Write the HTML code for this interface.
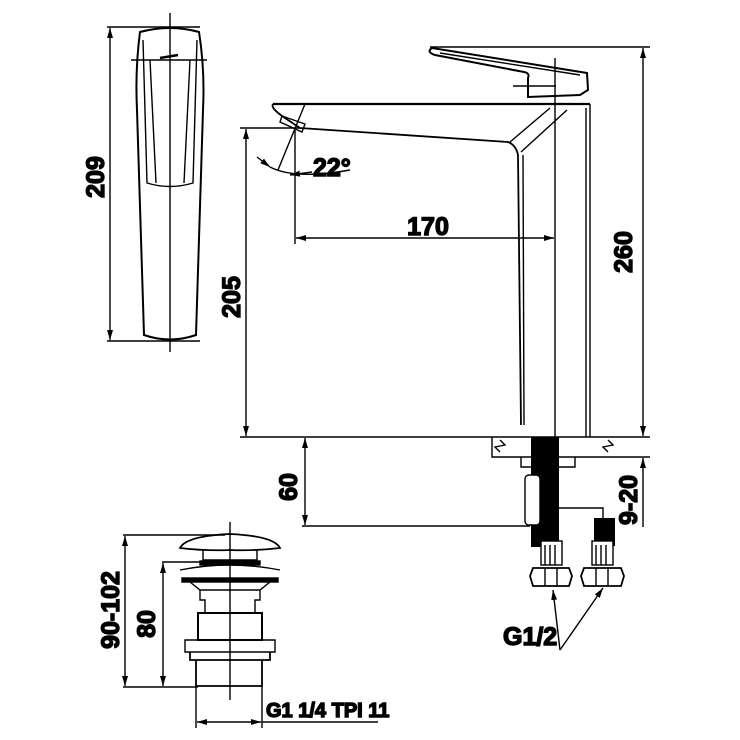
<!DOCTYPE html>
<html><head><meta charset="utf-8"><style>
html,body{margin:0;padding:0;background:#fff}
svg{display:block}
text{font-family:"Liberation Sans Narrow","Liberation Sans",sans-serif;font-weight:bold;fill:#000}
</style></head><body>
<svg width="740" height="740" viewBox="0 0 740 740" xmlns="http://www.w3.org/2000/svg">
<defs>
<marker id="a" markerWidth="10" markerHeight="8" refX="10" refY="4" orient="auto-start-reverse" markerUnits="userSpaceOnUse">
<path d="M0,1 L10,4 L0,7 Z" fill="#000"/></marker>
</defs>
<g fill="none" stroke="#000" stroke-width="1.4">
<line x1="170" y1="13" x2="170" y2="352"/>
<line x1="107" y1="27" x2="200" y2="27"/>
<line x1="107" y1="341" x2="200" y2="341"/>
<line x1="110" y1="28" x2="110" y2="340" marker-start="url(#a)" marker-end="url(#a)"/>
<line x1="131" y1="60" x2="207" y2="60"/>
<path d="M140,32 Q170,24 199,32 Q205,70 203,110 L196,335 Q170,344 144,335 L137,110 Q135,70 140,32 Z" stroke-width="2"/>
<path d="M143,40 L147,183 Q170,190 193,183 L197,40"/>
<path d="M150,60 L156,183 M190,60 L184,183"/>
<path d="M160,58 L178,55" stroke-width="2.5"/>
<text transform="translate(104,177) rotate(-90)" font-size="25" text-anchor="middle">209</text>

<line x1="240" y1="437" x2="650" y2="437" stroke-width="1.6"/>
<line x1="430" y1="47" x2="650" y2="47"/>
<line x1="643" y1="48" x2="643" y2="436" marker-start="url(#a)" marker-end="url(#a)"/>
<text transform="translate(632,252) rotate(-90)" font-size="25" text-anchor="middle">260</text>
<path d="M432,48 L587,73 L588,90 L580,95 L528,97 L528,78 Q530,73 524,72 L435,55 Q426,52 432,48 Z" stroke-width="2"/>
<path d="M440,53 L580,75"/>
<line x1="513" y1="86" x2="556" y2="86"/>
<line x1="555" y1="58" x2="555" y2="437"/>
<path d="M273,104 L590,104" stroke-width="2.2"/>
<path d="M273,104 Q270,108 285,118 L300,128 L508,142 Q516,145 518,155 L521,425" stroke-width="1.8"/>
<path d="M510,142 L550,108 M521,152 L567,110"/>
<path d="M590,104 L590,437 M586,108 L586,437 M523,155 L524,425"/>
<path d="M282,116 L305,124 L302,132 L280,122 Z" stroke-width="1.4"/>
<line x1="240" y1="128" x2="300" y2="128"/>
<line x1="246" y1="129" x2="246" y2="436" marker-start="url(#a)" marker-end="url(#a)"/>
<text transform="translate(240,297) rotate(-90)" font-size="25" text-anchor="middle">205</text>
<line x1="295" y1="130" x2="295" y2="244"/>
<line x1="296" y1="238" x2="554" y2="238" marker-start="url(#a)" marker-end="url(#a)"/>
<text x="428" y="235" font-size="25" text-anchor="middle">170</text>
<line x1="305" y1="104" x2="278" y2="170"/>
<path d="M257,157 L270,167"  marker-end="url(#a)"/>
<path d="M270,167 Q295,180 350,170"/>
<path d="M290,175 L312,172" marker-start="url(#a)"/>
<text x="313" y="176" font-size="25">22°</text>
<path d="M492,437 L492,457 L650,457"/>
<path d="M521,457 L521,467 L575,467 L575,457"/>
<path d="M500,440 L505,445 L495,447 L500,452 M608,440 L613,445 L603,447 L608,452"/>
<line x1="305" y1="438" x2="305" y2="525" marker-start="url(#a)" marker-end="url(#a)"/>
<line x1="302" y1="526" x2="530" y2="526"/>
<text transform="translate(297,487) rotate(-90)" font-size="25" text-anchor="middle">60</text>
<line x1="643" y1="458" x2="643" y2="527" marker-start="url(#a)"/>
<text transform="translate(637,500) rotate(-90)" font-size="25" text-anchor="middle">9-20</text>
<rect x="531" y="437" width="28" height="110" fill="#000" stroke="none"/>
<rect x="525" y="475" width="15" height="50" rx="4" fill="#fff"/>
<path d="M559,508 L603,508 L603,518"/>
<rect x="594" y="518" width="21" height="28" fill="#000" stroke="none"/>
<rect x="541" y="541" width="21" height="24" fill="#fff"/>
<rect x="592" y="541" width="21" height="24" fill="#fff"/>
<path d="M545,545 V565 M550,545 V565 M555,545 V565 M596,545 V565 M601,545 V565 M606,545 V565"/>
<path d="M533,568 L569,568 L572,576 L569,586 L533,586 L530,576 Z" stroke-width="1.8"/>
<path d="M545,568 V586 M557,568 V586"/>
<path d="M584,568 L621,568 L624,576 L621,586 L584,586 L581,576 Z" stroke-width="1.8"/>
<path d="M596,568 V586 M608,568 V586"/>
<line x1="560" y1="650" x2="553" y2="590" marker-end="url(#a)"/>
<line x1="560" y1="650" x2="603" y2="588" marker-end="url(#a)"/>
<text x="503" y="645" font-size="25">G1/2</text>

<line x1="230" y1="522" x2="230" y2="700"/>
<line x1="123" y1="535" x2="225" y2="535"/>
<line x1="162" y1="562" x2="215" y2="562"/>
<line x1="123" y1="687" x2="198" y2="687"/>
<line x1="125" y1="536" x2="125" y2="686" marker-start="url(#a)" marker-end="url(#a)"/>
<line x1="163" y1="563" x2="163" y2="686" marker-start="url(#a)" marker-end="url(#a)"/>
<text transform="translate(119,610) rotate(-90)" font-size="25" text-anchor="middle">90-102</text>
<text transform="translate(155,624) rotate(-90)" font-size="25" text-anchor="middle">80</text>
<path d="M180,548 Q186,536 230,534 Q274,536 280,548 Q255,551 230,550 Q205,551 180,548 Z" stroke-width="1.8"/>
<path d="M203,550 V560 H257 V550"/>
<rect x="200" y="561" width="60" height="4" fill="#000"/>
<path d="M180,570 Q230,560 280,570"/>
<rect x="182" y="578" width="96" height="4" fill="#000"/>
<path d="M190,582 L200,590 L260,590 L270,582"/>
<path d="M200,590 V600 L205,600 V613 M260,590 V600 L255,600 V613"/>
<path d="M198,613 H262 V640 H198 Z" stroke-width="2"/>
<path d="M185,640 H275 V652 H185 Z"/>
<path d="M190,652 V660 H270 V652 M196,660 V686 H262 V660" stroke-width="1.8"/>
<line x1="196" y1="686" x2="196" y2="728"/>
<line x1="262" y1="686" x2="262" y2="728"/>
<line x1="197" y1="722" x2="261" y2="722" marker-start="url(#a)" marker-end="url(#a)"/>
<line x1="262" y1="722" x2="378" y2="722"/>
<text x="266" y="717" font-size="20">G1 1/4 TPI 11</text>
</g>
</svg>
</body></html>
